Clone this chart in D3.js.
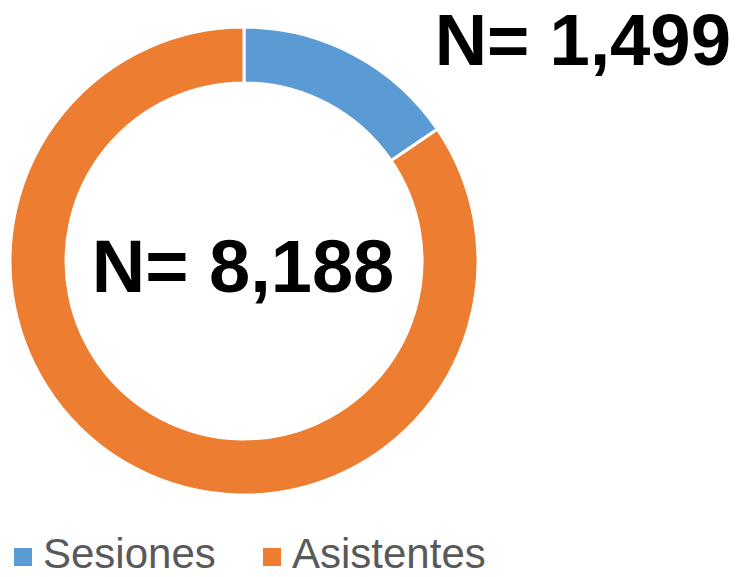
<!DOCTYPE html>
<html>
<head>
<meta charset="utf-8">
<script src="https://cdn.jsdelivr.net/npm/d3@7"></script>
<style>
  html, body { margin: 0; padding: 0; background: #fff; }
  svg { display: block; }
</style>
</head>
<body>
<svg id="chart" width="746" height="577"></svg>
<script>
// Donut of sessions vs attendees
const categories = ["Sesiones", "Asistentes"];
const values = [1499, 8188];
const colors = ["#5B9BD5", "#ED7D31"];
const fmt = d3.format(",");

const svg = d3.select("#chart");
const cx = 244, cy = 261, outerR = 234, innerR = 178;

const pie = d3.pie().sort(null).value(d => d.value);
const arc = d3.arc().innerRadius(innerR).outerRadius(outerR);
const data = categories.map((c, i) => ({ name: c, value: values[i], color: colors[i] }));

const g = svg.append("g").attr("transform", `translate(${cx},${cy})`);
g.selectAll("path")
  .data(pie(data))
  .join("path")
  .attr("d", arc)
  .attr("fill", d => d.data.color)
  .attr("stroke", "#fff")
  .attr("stroke-width", 3)
  .attr("stroke-linejoin", "miter");

// Totals
svg.append("text")
  .attr("x", cx - 1).attr("y", 292)
  .attr("text-anchor", "middle")
  .attr("font-family", "Liberation Sans, Arial, sans-serif")
  .attr("font-weight", "bold")
  .attr("font-size", 74)
  .attr("fill", "#000")
  .text("N= " + fmt(values[1]));

svg.append("text")
  .attr("x", 731).attr("y", 65)
  .attr("text-anchor", "end")
  .attr("font-family", "Liberation Sans, Arial, sans-serif")
  .attr("font-weight", "bold")
  .attr("font-size", 72.5)
  .attr("fill", "#000")
  .text("N= " + fmt(values[0]));

// Legend
const legendX = [14, 263];
const leg = svg.append("g");
data.forEach((d, i) => {
  leg.append("rect")
    .attr("x", legendX[i]).attr("y", 548)
    .attr("width", 18).attr("height", 18)
    .attr("fill", d.color);
  leg.append("text")
    .attr("x", legendX[i] + 29).attr("y", 568)
    .attr("font-family", "Liberation Sans, Arial, sans-serif")
    .attr("font-size", 42)
    .attr("fill", "#595959")
    .text(d.name);
});
</script>
</body>
</html>
